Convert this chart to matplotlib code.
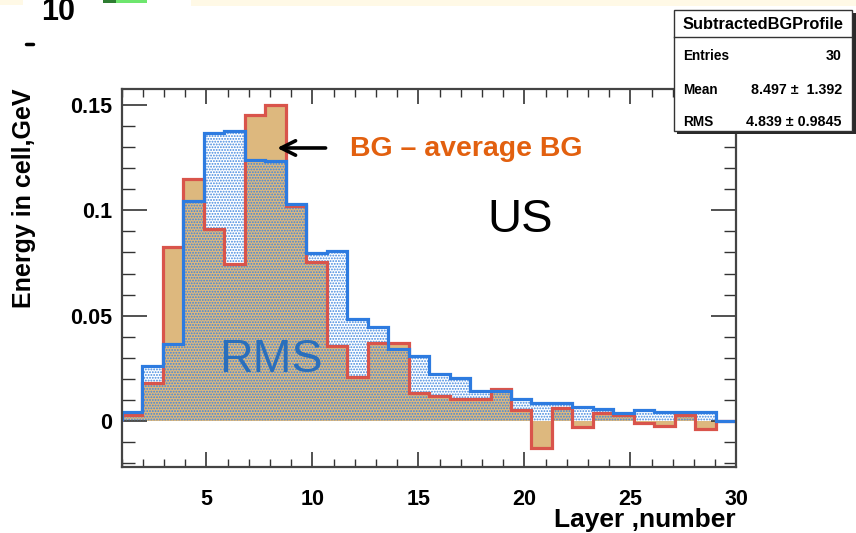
import numpy as np
import matplotlib
matplotlib.use('Agg')
import matplotlib.pyplot as plt
from matplotlib.patches import Rectangle
from matplotlib.lines import Line2D
from matplotlib.ticker import MultipleLocator

# ---------------- data ----------------
layer_min, layer_max, n_bins = 1.0, 30.0, 30
rms_values = [0.0044, 0.0260, 0.0365, 0.1044, 0.1368, 0.1378, 0.1239, 0.1234,
              0.1030, 0.0796, 0.0806, 0.0485, 0.0446, 0.0340, 0.0309, 0.0223,
              0.0203, 0.0144, 0.0144, 0.0104, 0.0084, 0.0087, 0.0068, 0.0055,
              0.0039, 0.0052, 0.0043, 0.0043, 0.0043, 0.0]
bg_minus_avg = [0.0030, 0.0180, 0.0827, 0.1147, 0.0910, 0.0745, 0.1452, 0.1500,
                0.1020, 0.0756, 0.0357, 0.0210, 0.0372, 0.0372, 0.0131, 0.0119,
                0.0103, 0.0103, 0.0153, 0.0052, -0.0127, 0.0060, -0.0030, 0.0039,
                0.0028, -0.0011, -0.0024, 0.0028, -0.0040, 0.0]
x_ticks = [5, 10, 15, 20, 25, 30]
x_tick_labels = ['5', '10', '15', '20', '25', '30']
y_ticks = [0, 0.05, 0.1, 0.15]
y_tick_labels = ['0', '0.05', '0.1', '0.15']
stats_title = 'SubtractedBGProfile'
stats_rows = [('Entries', '30'), ('Mean', '8.497 \u00b1  1.392'), ('RMS', '4.839 \u00b1 0.9845')]

plt.rcParams['font.family'] = ['Liberation Sans', 'DejaVu Sans']
plt.rcParams['hatch.linewidth'] = 0.9

W, H = 856, 533
fig = plt.figure(figsize=(W / 100, H / 100), dpi=100)


def fx(px):
    return px / W


def fy(py):
    return 1 - py / H


def frect(x0, y0, x1, y1, **kw):
    r = Rectangle((fx(x0), fy(y1)), (x1 - x0) / W, (y1 - y0) / H,
                  transform=fig.transFigure, **kw)
    fig.patches.append(r)
    return r


# background decorations (slide remnants)
frect(0, 0, 23, 5, facecolor='#FFF9E6', edgecolor='none', zorder=0)
frect(191, 0, 856, 6, facecolor='#FFF9E6', edgecolor='none', zorder=0)
frect(103, 0, 147, 3, facecolor='#6EE66E', edgecolor='none', zorder=1)
frect(103, 0, 116, 3, facecolor='#2E7D32', edgecolor='none', zorder=1)
fig.text(fx(41), fy(20.5), '10', fontsize=22, fontweight='bold', ha='left', va='baseline')
fig.lines.append(Line2D([fx(26), fx(33)], [fy(43.5), fy(43.5)], transform=fig.transFigure,
                        color='black', lw=2.5, solid_capstyle='round'))

# ---------------- axes ----------------
ax = fig.add_axes([fx(121.7), fy(466.7), (736.4 - 121.7) / W, (466.7 - 89) / H])
edges = np.linspace(layer_min, layer_max, n_bins + 1)

tan = '#DDB87E'
red = '#D9544B'
blue = '#2D7BE0'
dot = '#3F86DE'

ax.stairs(bg_minus_avg, edges, baseline=0, fill=True, facecolor=tan,
          edgecolor='none', lw=0, zorder=1)
ax.stairs(rms_values, edges, baseline=0, fill=True, facecolor='none',
          edgecolor=dot, hatch='......', lw=0, zorder=2)
ax.stairs(bg_minus_avg, edges, baseline=0, color=red, lw=2.3, zorder=3)
ax.stairs(rms_values, edges, baseline=0, color=blue, lw=2.3, zorder=4)

ax.set_xlim(layer_min, layer_max)
ax.set_ylim(-0.0217, 0.1576)
ax.set_xticks(x_ticks)
ax.set_xticklabels(x_tick_labels, fontsize=15.5, fontweight='bold')
ax.set_yticks(y_ticks)
ax.set_yticklabels(y_tick_labels, fontsize=15.5, fontweight='bold')
ax.xaxis.set_minor_locator(MultipleLocator(1))
ax.yaxis.set_minor_locator(MultipleLocator(0.01))
ax.tick_params(axis='x', which='major', direction='in', length=11, width=1.2,
               top=True, pad=16, color='#333333')
ax.tick_params(axis='x', which='minor', direction='in', length=6, width=1.0,
               top=True, color='#333333')
ax.tick_params(axis='y', which='major', direction='in', length=18, width=1.2,
               right=True, pad=7, color='#333333')
ax.tick_params(axis='y', which='minor', direction='in', length=9, width=1.0,
               right=True, color='#333333')
for s in ax.spines.values():
    s.set_color('#444444')
    s.set_linewidth(1.6)
    s.set_zorder(6)

# annotations
ax.annotate('', xy=(8.2, 0.1296), xytext=(10.75, 0.1296),
            arrowprops=dict(arrowstyle='->', lw=2.6, color='black', mutation_scale=26),
            zorder=7)
ax.text(11.78, 0.1290, 'BG \u2013 average BG', color='#E2600F', fontsize=20.5,
        fontweight='bold', ha='left', va='center', zorder=7)
ax.text(19.8, 0.0954, 'US', color='black', fontsize=34, ha='center', va='center', zorder=7)
ax.text(8.05, 0.0290, 'RMS', color='#2A6FBC', fontsize=33.5, ha='center', va='center', zorder=7)

# axis titles
fig.text(fx(24), fy(198), 'Energy in cell,GeV', rotation=90, fontsize=18,
         fontweight='bold', ha='center', va='center')
fig.text(fx(736), fy(527.5), 'Layer ,number', fontsize=19, fontweight='bold',
         ha='right', va='baseline')

# ---------------- stats box ----------------
frect(677, 13, 856, 134, facecolor='#2a2a2a', edgecolor='none', zorder=8)
frect(674, 10, 852, 131, facecolor='white', edgecolor='#333333', lw=1.0, zorder=9)
fig.lines.append(Line2D([fx(674), fx(852)], [fy(37), fy(37)], transform=fig.transFigure,
                        color='#333333', lw=1.0, zorder=10))
fig.text(fx(763), fy(24.5), stats_title, fontsize=11.8, fontweight='bold',
         ha='center', va='center', zorder=11)
row_y = [56, 90, 122]
for (lab, val), yy in zip(stats_rows, row_y):
    fig.text(fx(683), fy(yy), lab, fontsize=9.8, fontweight='bold',
             ha='left', va='center', zorder=11)
    fig.text(fx(842), fy(yy), val, fontsize=10.3, fontweight='bold',
             ha='right', va='center', zorder=11)

fig.savefig('out.png', dpi=100)
